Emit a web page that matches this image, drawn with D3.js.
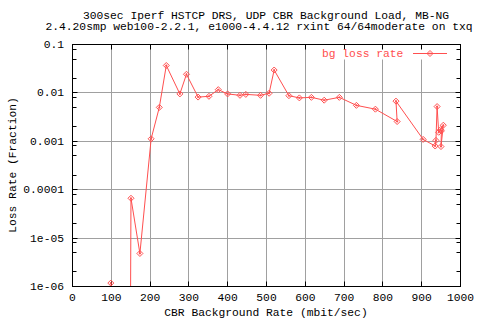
<!DOCTYPE html>
<html>
<head>
<meta charset="utf-8">
<script src="https://cdn.jsdelivr.net/npm/d3@7"></script>
<style>
  body { margin: 0; background: #fff; }
  text { font-family: "Liberation Mono", "DejaVu Sans Mono", monospace; font-size: 11.3px; fill: #000; }
</style>
</head>
<body>
<script>
// CBR background rate (mbit/sec), in plotted order
var rate = [100, 150, 152, 175, 204, 225, 243, 278, 295, 325, 353, 377, 401, 433, 448, 486, 508,
    521, 559, 586, 617, 650, 689, 733, 782, 838, 835, 905, 936, 938, 941, 945, 950, 957, 951, 952]
// bg loss rate (fraction)
var loss = [1.15e-6, 1e-8, 6.5e-5, 4.7e-6, 1.1e-3, 4.9e-3, 0.036, 0.0093, 0.0237, 0.0080, 0.0083, 0.0114, 0.0093, 0.0087, 0.0091, 0.0087, 0.0096,
    0.029, 0.00855, 0.0077, 0.0079, 0.0069, 0.0079, 0.0054, 0.0045, 0.0025, 0.0066, 0.00107, 0.00078, 0.00102, 0.0051, 0.0015, 0.0017, 0.0021, 0.00076, 0.0016]

var xTicks = [0, 100, 200, 300, 400, 500, 600, 700, 800, 900, 1000]
var yTicks = [0.1, 0.01, 0.001, 0.0001, 1e-5, 1e-6]
var yTickLabels = ['0.1', '0.01', '0.001', '0.0001', '1e-05', '1e-06']
var titleLines = ['300sec Iperf HSTCP DRS, UDP CBR Background Load, MB-NG',
    '2.4.20smp web100-2.2.1, e1000-4.4.12 rxint 64/64moderate on txq']

var width = 480,
    height = 320
var pL = 72, pR = 460, pT = 44, pB = 286
var red = '#ff4f4f', grid = '#a0a0a0'

var svg = d3.select('body').append('svg')
    .attr('width', width)
    .attr('height', height)

var x = d3.scaleLinear().domain([0, 1000]).range([pL, pR])
var y = d3.scaleLog().domain([1e-6, 0.1]).range([pB, pT])

// minor ticks at 0.8, 0.5, 0.2 of each decade
var minor = []
yTicks.slice(0, -1).forEach(d => [0.8, 0.5, 0.2].forEach(m => minor.push(d * m)))

var g = svg.append('g').attr('transform', 'translate(0.5,0.5)')

// grid
g.selectAll('.vg').data(xTicks.slice(1, -1)).enter().append('line')
    .attr('x1', d => Math.round(x(d))).attr('x2', d => Math.round(x(d)))
    .attr('y1', pT).attr('y2', pB)
    .attr('stroke', grid)
g.selectAll('.hg').data(yTicks.slice(1, -1)).enter().append('line')
    .attr('x1', pL).attr('x2', pR)
    .attr('y1', d => Math.round(y(d))).attr('y2', d => Math.round(y(d)))
    .attr('stroke', grid)

// key background blanks the grid
g.append('rect').attr('x', 318).attr('y', pT + 1).attr('width', 134).attr('height', 14).attr('fill', '#fff')

// ticks
var tk = g.append('g').attr('stroke', '#000')
xTicks.forEach(d => {
    var px = Math.round(x(d))
    tk.append('line').attr('x1', px).attr('x2', px).attr('y1', pB).attr('y2', pB - 5)
    tk.append('line').attr('x1', px).attr('x2', px).attr('y1', pT).attr('y2', pT + 5)
})
yTicks.forEach(d => {
    var py = Math.round(y(d))
    tk.append('line').attr('x1', pL).attr('x2', pL + 5).attr('y1', py).attr('y2', py)
    tk.append('line').attr('x1', pR).attr('x2', pR - 5).attr('y1', py).attr('y2', py)
})
minor.forEach(d => {
    var py = Math.round(y(d))
    tk.append('line').attr('x1', pL).attr('x2', pL + 4).attr('y1', py).attr('y2', py)
    tk.append('line').attr('x1', pR).attr('x2', pR - 4).attr('y1', py).attr('y2', py)
})

// frame
g.append('rect').attr('x', pL).attr('y', pT).attr('width', pR - pL).attr('height', pB - pT)
    .attr('fill', 'none').attr('stroke', '#000')

// tick labels
svg.selectAll('.xl').data(xTicks).enter().append('text')
    .attr('x', d => x(d) + 0.5).attr('y', 301)
    .attr('text-anchor', 'middle')
    .text(d => d)
svg.selectAll('.yl').data(yTicks).enter().append('text')
    .attr('x', 64).attr('y', d => y(d) + 4)
    .attr('text-anchor', 'end')
    .text((d, i) => yTickLabels[i])

// titles
svg.append('text').attr('x', 266).attr('y', 19).attr('text-anchor', 'middle').text(titleLines[0])
svg.append('text').attr('x', 259).attr('y', 30).attr('text-anchor', 'middle').text(titleLines[1])
svg.append('text').attr('x', 266).attr('y', 316).attr('text-anchor', 'middle').text('CBR Background Rate (mbit/sec)')
svg.append('text').attr('transform', 'translate(16,165) rotate(-90)').attr('text-anchor', 'middle').text('Loss Rate (Fraction)')

// data
svg.append('clipPath').attr('id', 'clip').append('rect')
    .attr('x', pL).attr('y', pT).attr('width', pR - pL).attr('height', pB - pT)

var pts = rate.map((r, i) => [r, loss[i]])
var line = d3.line().x(d => x(d[0])).y(d => y(d[1]))
var diamond = 'M0,-3L3,0L0,3L-3,0ZM-1,0H1M0,-1V1'

var plot = svg.append('g').attr('clip-path', 'url(#clip)')
plot.append('path').datum(pts)
    .attr('d', line)
    .attr('fill', 'none').attr('stroke', red).attr('stroke-width', 1)
plot.selectAll('.pt').data(pts).enter().append('path')
    .attr('transform', d => 'translate(' + x(d[0]) + ',' + y(d[1]) + ')')
    .attr('d', diamond)
    .attr('fill', 'none').attr('stroke', red).attr('stroke-width', 1)

// key
svg.append('text').attr('x', 322).attr('y', 57).style('fill', red).text('bg loss rate')
svg.append('line').attr('x1', 413).attr('x2', 447).attr('y1', 53.5).attr('y2', 53.5).attr('stroke', red)
svg.append('path').attr('transform', 'translate(430,53.5)').attr('d', diamond).attr('fill', 'none').attr('stroke', red)
</script>
</body>
</html>
